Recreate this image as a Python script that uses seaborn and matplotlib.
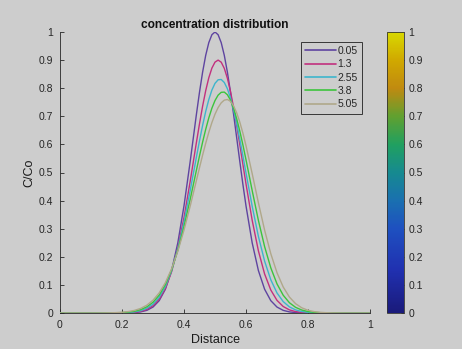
import numpy as np
import pandas as pd
import matplotlib
matplotlib.use("Agg")
import matplotlib.pyplot as plt
import seaborn as sns
from matplotlib.colors import LinearSegmentedColormap, Normalize
from matplotlib.cm import ScalarMappable

# sampled distances: 0.02 steps, 0.01 steps across the peaks
distance = [0.00, 0.02, 0.04, 0.06, 0.08, 0.10, 0.12, 0.14, 0.16, 0.18,
            0.20, 0.22, 0.24, 0.26, 0.28, 0.30, 0.32, 0.34, 0.36, 0.38,
            0.40, 0.42, 0.44,
            0.45, 0.46, 0.47, 0.48, 0.49, 0.50, 0.51, 0.52, 0.53, 0.54,
            0.55, 0.56, 0.57, 0.58, 0.59, 0.60,
            0.62, 0.64, 0.66, 0.68, 0.70, 0.72, 0.74, 0.76, 0.78, 0.80,
            0.82, 0.84, 0.86, 0.88, 0.90, 0.92, 0.94, 0.96, 0.98, 1.00]

# C/Co, one list per time
c_005 = [0, 0, 0, 0, 0, 0, 0, 0, 0, 0,
         0.0002, 0.0005, 0.0015, 0.0039, 0.0094, 0.0211, 0.0439, 0.0847, 0.1510, 0.2494,
         0.3812, 0.5394, 0.7067,
         0.7858, 0.8570, 0.9169, 0.9622, 0.9904, 1.0, 0.9904, 0.9622, 0.9169, 0.8570,
         0.7858, 0.7067, 0.6234, 0.5394, 0.4578, 0.3812,
         0.2494, 0.1510, 0.0847, 0.0439, 0.0211, 0.0094, 0.0039, 0.0015, 0.0005, 0.0002,
         0, 0, 0, 0, 0, 0, 0, 0, 0, 0]
c_130 = [0, 0, 0, 0, 0, 0, 0, 0, 0, 0.0001,
         0.0004, 0.0010, 0.0025, 0.0059, 0.0127, 0.0259, 0.0492, 0.0878, 0.1470, 0.2308,
         0.3398, 0.4688, 0.6066,
         0.6735, 0.7359, 0.7912, 0.8371, 0.8715, 0.8928, 0.9000, 0.8926, 0.8706, 0.8352,
         0.7880, 0.7313, 0.6675, 0.5993, 0.5290, 0.4594,
         0.3296, 0.2212, 0.1390, 0.0817, 0.0449, 0.0231, 0.0111, 0.0050, 0.0021, 0.0008,
         0.0003, 0.0001, 0, 0, 0, 0, 0, 0, 0, 0]
c_255 = [0, 0, 0, 0, 0, 0, 0, 0, 0.0001, 0.0003,
         0.0008, 0.0018, 0.0040, 0.0084, 0.0167, 0.0315, 0.0561, 0.0946, 0.1508, 0.2271,
         0.3236, 0.4357, 0.5547,
         0.6128, 0.6676, 0.7172, 0.7596, 0.7935, 0.8172, 0.8299, 0.8310, 0.8203, 0.7980,
         0.7650, 0.7229, 0.6733, 0.6180, 0.5592, 0.4985,
         0.3795, 0.2726, 0.1847, 0.1181, 0.0713, 0.0406, 0.0218, 0.0110, 0.0053, 0.0024,
         0.0010, 0.0004, 0.0002, 0, 0, 0, 0, 0, 0, 0]
c_380 = [0, 0, 0, 0, 0, 0, 0, 0.0001, 0.0003, 0.0007,
         0.0015, 0.0031, 0.0062, 0.0119, 0.0219, 0.0383, 0.0638, 0.1015, 0.1540, 0.2228,
         0.3075, 0.4047, 0.5079,
         0.5590, 0.6081, 0.6536, 0.6943, 0.7289, 0.7561, 0.7752, 0.7853, 0.7861, 0.7768,
         0.7573, 0.7284, 0.6913, 0.6474, 0.5982, 0.5454,
         0.4354, 0.3295, 0.2364, 0.1607, 0.1036, 0.0633, 0.0366, 0.0201, 0.0105, 0.0052,
         0.0024, 0.0011, 0.0004, 0.0002, 0, 0, 0, 0, 0, 0]
c_505 = [0, 0, 0, 0, 0, 0, 0.0001, 0.0003, 0.0006, 0.0013,
         0.0026, 0.0050, 0.0092, 0.0163, 0.0278, 0.0455, 0.0716, 0.1083, 0.1573, 0.2198,
         0.2950, 0.3805, 0.4716,
         0.5172, 0.5617, 0.6040, 0.6430, 0.6778, 0.7074, 0.7310, 0.7479, 0.7576, 0.7598,
         0.7531, 0.7370, 0.7121, 0.6794, 0.6400, 0.5953,
         0.4957, 0.3923, 0.2951, 0.2110, 0.1434, 0.0926, 0.0569, 0.0331, 0.0184, 0.0097,
         0.0049, 0.0023, 0.0010, 0.0004, 0.0002, 0, 0, 0, 0, 0]

times = ["0.05", "1.3", "2.55", "3.8", "5.05"]
line_colors = ["#5e44a0", "#c2307e", "#3db5cc", "#3cc43c", "#b0a88a"]

x_ticks = [0, 0.2, 0.4, 0.6, 0.8, 1]
x_text = ["0", "0.2", "0.4", "0.6", "0.8", "1"]
y_ticks = [0, 0.1, 0.2, 0.3, 0.4, 0.5, 0.6, 0.7, 0.8, 0.9, 1]
y_text = ["0", "0.1", "0.2", "0.3", "0.4", "0.5", "0.6", "0.7", "0.8", "0.9", "1"]

# parula-ish map as it shows in the screenshot
cbar_colors = ["#1a1a7a", "#2030b0", "#1e50c0", "#1a70b0", "#168a90",
               "#20a060", "#60a030", "#c08a10", "#d0a800", "#d8d800"]
cbar_stops = [0.0, 0.15, 0.3, 0.4, 0.5, 0.6, 0.7, 0.8, 0.9, 1.0]

frames = []
for t, vals in zip(times, [c_005, c_130, c_255, c_380, c_505]):
    frames.append(pd.DataFrame({"Distance": distance, "C/Co": vals, "time": t}))
df = pd.concat(frames, ignore_index=True)

BG = "#cdcdcd"
sns.set_theme(style="ticks")
plt.rcParams["font.family"] = ["Liberation Sans", "DejaVu Sans"]

fig = plt.figure(figsize=(4.62, 3.49), dpi=100, facecolor=BG)

ax = fig.add_axes([60 / 462, 36 / 349, 310 / 462, 281 / 349])
ax.set_facecolor(BG)

sns.lineplot(data=df, x="Distance", y="C/Co", hue="time", hue_order=times,
             palette=line_colors, linewidth=1.0, errorbar=None, ax=ax)
for ln in ax.get_lines():
    ln.set_zorder(3)

ax.set_xlim(0, 1)
ax.set_ylim(0, 1)
ax.set_xticks(x_ticks)
ax.set_xticklabels(x_text)
ax.set_yticks(y_ticks)
ax.set_yticklabels(y_text)
ax.tick_params(labelsize=7.5, colors="#262626", length=3, width=0.6, pad=5, direction="in")
for s in ["top", "right"]:
    ax.spines[s].set_visible(False)
for s in ["left", "bottom"]:
    ax.spines[s].set_color("#262626")
    ax.spines[s].set_linewidth(0.6)

ax.set_xlabel("Distance", fontsize=9, color="#1a1a1a", labelpad=3)
ax.set_ylabel("C/Co", fontsize=9, color="#1a1a1a", labelpad=2)
ax.set_title("concentration distribution", fontsize=8.6, fontweight="bold",
             color="#111111", pad=3)

leg = ax.legend(loc="upper left", bbox_to_anchor=(0.777, 0.965), borderaxespad=0,
                fontsize=7.5, frameon=True, fancybox=False, handlelength=3.0,
                handletextpad=0.1, labelspacing=0.32, borderpad=0.4)
leg.get_frame().set_facecolor(BG)
leg.get_frame().set_edgecolor("#111111")
leg.get_frame().set_linewidth(0.7)
for line in leg.get_lines():
    line.set_linewidth(1.2)

cmap = LinearSegmentedColormap.from_list("parula_ish", list(zip(cbar_stops, cbar_colors)))
cax = fig.add_axes([387 / 462, 36 / 349, 17 / 462, 281 / 349])
cb = fig.colorbar(ScalarMappable(norm=Normalize(0, 1), cmap=cmap), cax=cax)
cb.set_ticks(y_ticks)
cb.set_ticklabels(y_text)
cax.tick_params(labelsize=7.5, colors="#262626", length=2, width=0.6, direction="in", pad=3)
cb.outline.set_edgecolor("#333333")
cb.outline.set_linewidth(0.6)

fig.savefig("out.png", dpi=100, facecolor=BG)
